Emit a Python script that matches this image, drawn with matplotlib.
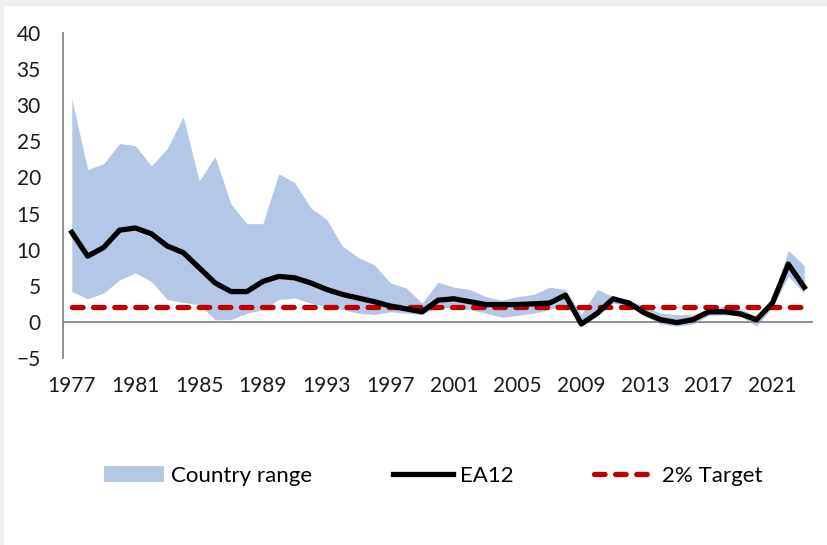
import numpy as np
import matplotlib.pyplot as plt
from matplotlib.patches import Rectangle

years = list(range(1977, 2024))

ea12 = [12.4, 9.1, 10.3, 12.7, 13.0, 12.2, 10.5, 9.6, 7.5, 5.4,
        4.2, 4.2, 5.6, 6.3, 6.1, 5.4, 4.5, 3.8, 3.3, 2.8,
        2.2, 1.8, 1.4, 3.0, 3.2, 2.8, 2.4, 2.4, 2.4, 2.5,
        2.6, 3.7, -0.3, 1.2, 3.2, 2.6, 1.2, 0.3, -0.1, 0.3,
        1.4, 1.4, 1.1, 0.3, 2.6, 8.0, 4.8]

band_high = [30.9, 21.1, 21.9, 24.7, 24.4, 21.6, 24.0, 28.4, 19.5, 22.9,
             16.3, 13.6, 13.6, 20.5, 19.3, 15.8, 14.2, 10.5, 8.9, 7.9,
             5.4, 4.7, 2.6, 5.5, 4.8, 4.5, 3.5, 3.0, 3.5, 3.8,
             4.8, 4.5, 1.0, 4.5, 3.5, 3.0, 2.1, 1.2, 1.0, 1.0,
             1.8, 2.2, 1.8, 0.8, 3.2, 9.9, 7.8]

band_low = [4.2, 3.2, 4.0, 5.8, 6.8, 5.6, 3.1, 2.7, 2.4, 0.3,
            0.3, 1.2, 1.7, 3.1, 3.3, 2.6, 2.1, 1.7, 1.2, 1.0,
            1.4, 1.2, 1.0, 2.1, 1.9, 1.7, 1.2, 0.65, 0.9, 1.2,
            1.7, 2.5, -0.5, 0.8, 2.6, 2.2, 0.8, -0.3, -0.6, -0.3,
            0.9, 1.0, 0.8, -0.6, 2.0, 6.3, 4.0]

target = 2.0

plt.rcParams['font.family'] = ['Lato', 'DejaVu Sans']

fig = plt.figure(figsize=(8.27, 5.45), dpi=100)
ax = fig.add_axes([63 / 827, 1 - 358 / 545, 750 / 827, 325 / 545])

# screenshot frame
fig.patches.append(Rectangle((0, 1 - 5 / 545), 1, 5 / 545, transform=fig.transFigure,
                             color='#f0f0f0', zorder=0))
fig.patches.append(Rectangle((0, 0), 3 / 827, 1, transform=fig.transFigure,
                             color='#f0f0f0', zorder=0))

ax.fill_between(years, band_low, band_high, color='#b4c7e7', linewidth=0,
                label='Country range', zorder=1)
ax.axhline(0, color='#868686', linewidth=1.3, zorder=2)
ax.plot(years, ea12, color='black', linewidth=3.8, label='EA12', zorder=4,
        solid_joinstyle='round')
ax.plot([years[0], years[-1]], [target, target], color='#c00000', linewidth=3.8,
        dashes=(2.0, 2.0), dash_capstyle='round', label='2% Target', zorder=3)

ax.set_xlim(1976.45, 2023.55)
ax.set_ylim(-5, 40)
ax.set_yticks(range(-5, 41, 5))
ax.set_xticks(years[::4])

for s in ['top', 'right', 'bottom']:
    ax.spines[s].set_visible(False)
ax.spines['left'].set_color('#868686')
ax.spines['left'].set_linewidth(1.3)

ax.tick_params(axis='both', length=0, labelsize=15, colors='#1a1a1a')
ax.tick_params(axis='y', pad=16)
ax.tick_params(axis='x', pad=13)

fig.legend(loc='center', bbox_to_anchor=(433 / 827, 1 - 476 / 545), ncol=3, frameon=False,
           fontsize=16, handlelength=2.7, handletextpad=0.35, columnspacing=3.6)

fig.savefig('out.png', dpi=100)
